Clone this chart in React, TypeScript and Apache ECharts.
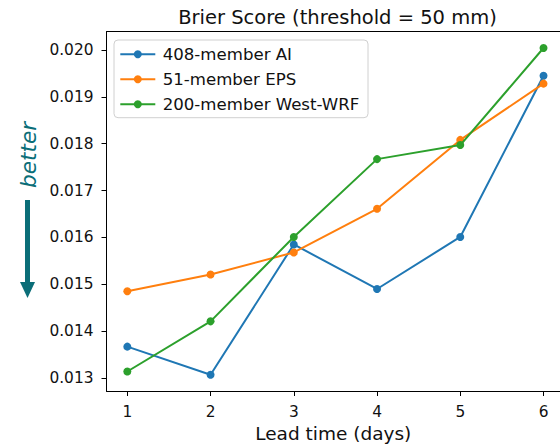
import React, { useEffect, useRef } from "react";
import * as echarts from "echarts";

const leadDays = [1, 2, 3, 4, 5, 6];
const aiValues = [0.01367, 0.01307, 0.01585, 0.0149, 0.01601, 0.01945];
const epsValues = [0.01485, 0.01521, 0.01568, 0.01661, 0.01808, 0.01928];
const wrfValues = [0.01314, 0.01421, 0.01601, 0.01767, 0.01797, 0.02004];
const yTicks = [0.013, 0.014, 0.015, 0.016, 0.017, 0.018, 0.019, 0.02];
const seriesNames = ["408-member AI", "51-member EPS", "200-member West-WRF"];
const seriesColors = ["#1f77b4", "#ff7f0e", "#2ca02c"];
const titleText = "Brier Score (threshold = 50 mm)";
const xLabel = "Lead time (days)";
const annotation = "better";

const FONT = "DejaVu Sans";
const TEAL = "#0b6e78";

export default function App() {
  const ref = useRef<HTMLDivElement>(null);
  useEffect(() => {
    if (!ref.current) return;
    const chart = echarts.init(ref.current, null, { renderer: "svg" });
    const all = [aiValues, epsValues, wrfValues];
    const option: any = {
      animation: false,
      backgroundColor: "#ffffff",
      textStyle: { fontFamily: FONT },
      grid: {
        left: 106.5,
        right: 0,
        top: 31.7,
        bottom: 55,
        show: false,
      },
      xAxis: [
        {
          type: "value",
          min: 0.75,
          max: 6.198,
          splitLine: { show: false },
          axisLine: { show: true, onZero: false, lineStyle: { color: "#000", width: 1 } },
          axisTick: {
            show: true,
            customValues: leadDays,
            length: 5,
            lineStyle: { color: "#000" },
          },
          axisLabel: {
            customValues: leadDays,
            margin: 13,
            color: "#111",
            fontFamily: FONT,
            fontSize: 15.4,
            formatter: (v: number) => String(v),
          },
          name: xLabel,
          nameLocation: "middle",
          nameGap: 33,
          nameTextStyle: { color: "#111", fontFamily: FONT, fontSize: 18.5 },
        },
        {
          type: "value",
          position: "top",
          min: 0.75,
          max: 6.198,
          splitLine: { show: false },
          axisLine: { show: true, onZero: false, lineStyle: { color: "#000", width: 1 } },
          axisTick: { show: false },
          axisLabel: { show: false },
        },
      ],
      yAxis: {
        type: "value",
        min: 0.012724,
        max: 0.020388,
        splitLine: { show: false },
        axisLine: { show: true, onZero: false, lineStyle: { color: "#000", width: 1 } },
        axisTick: {
          show: true,
          customValues: yTicks,
          length: 5,
          lineStyle: { color: "#000" },
        },
        axisLabel: {
          customValues: yTicks,
          margin: 13,
          color: "#111",
          fontFamily: FONT,
          fontSize: 15.4,
          formatter: (v: number) => v.toFixed(3),
        },
      },
      legend: {
        orient: "vertical",
        left: 114,
        top: 40,
        padding: [4.8, 8.7, 3.9, 5.3],
        itemWidth: 35,
        itemHeight: 10,
        itemGap: 6,
        backgroundColor: "rgba(255,255,255,0.8)",
        borderColor: "#d0d0d0",
        borderWidth: 1,
        borderRadius: 4,
        textStyle: {
          color: "#111",
          fontFamily: FONT,
          fontSize: 16.6,
          lineHeight: 19,
          padding: [0, 0, 0, 2.4],
        },
        data: seriesNames,
      },
      graphic: [
        {
          type: "text",
          x: 337.5,
          y: 17,
          style: {
            text: titleText,
            fontFamily: FONT,
            fontSize: 19.5,
            fill: "#111",
            align: "center",
            verticalAlign: "middle",
          },
        },
        {
          type: "text",
          x: 28.5,
          y: 155,
          rotation: Math.PI / 2,
          style: {
            text: annotation,
            fontFamily: FONT,
            fontStyle: "italic",
            fontSize: 21.6,
            fill: TEAL,
            align: "center",
            verticalAlign: "middle",
          },
        },
        {
          type: "rect",
          shape: { x: 25, y: 200, width: 5, height: 84 },
          style: { fill: TEAL },
        },
        {
          type: "polygon",
          shape: {
            points: [
              [20, 282],
              [35, 282],
              [27.5, 298],
            ],
          },
          style: { fill: TEAL },
        },
      ],
      series: seriesNames.map((name, i) => ({
        name,
        type: "line",
        xAxisIndex: 0,
        data: leadDays.map((d, j) => [d, all[i][j]]),
        symbol: "circle",
        symbolSize: 8,
        showSymbol: true,
        clip: false,
        lineStyle: { width: 2, color: seriesColors[i] },
        itemStyle: { color: seriesColors[i] },
        emphasis: { disabled: true },
        z: 2 + i,
      })),
    };
    chart.setOption(option);
    return () => chart.dispose();
  }, []);
  return (
    <div
      ref={ref}
      style={{ position: "fixed", left: 0, top: 0, width: 560, height: 448 }}
    />
  );
}
